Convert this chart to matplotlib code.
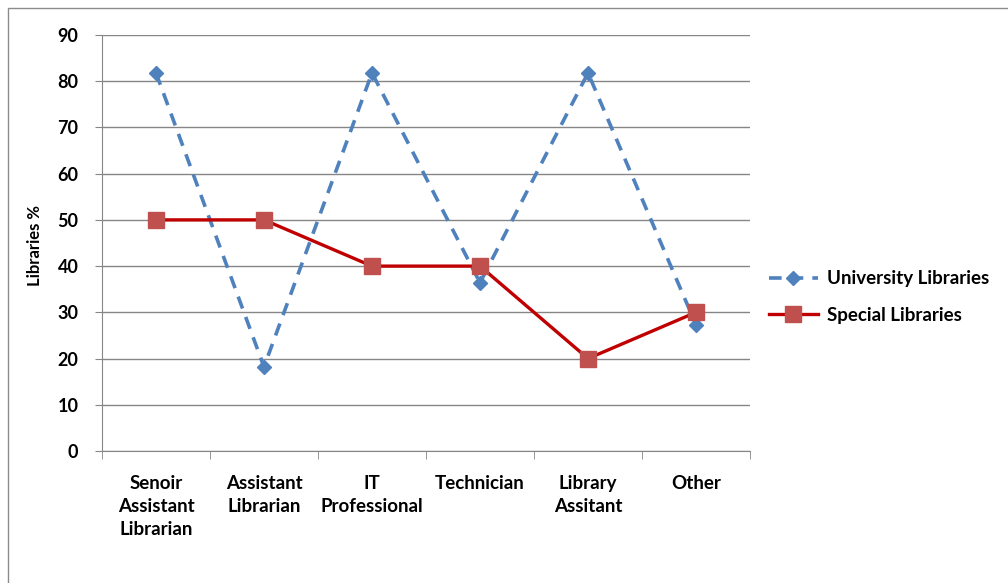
import numpy as np
import matplotlib.pyplot as plt
from matplotlib.patches import Rectangle

categories = ['Senoir\nAssistant\nLibrarian', 'Assistant\nLibrarian', 'IT\nProfessional',
              'Technician', 'Library\nAssitant', 'Other']
university = [81.8, 18.2, 81.8, 36.4, 81.8, 27.3]
special = [50, 50, 40, 40, 20, 30]
yticks = [0, 10, 20, 30, 40, 50, 60, 70, 80, 90]

plt.rcParams['font.family'] = ['Lato', 'DejaVu Sans']
plt.rcParams['font.weight'] = 'bold'

fig = plt.figure(figsize=(10.08, 5.83), dpi=100)
fig.patches.append(Rectangle((8 / 1008, -0.1), 1.2, 1 - 8 / 583 + 0.1, transform=fig.transFigure,
                             fill=False, edgecolor='#8c8c8c', linewidth=1))
ax = fig.add_axes([102 / 1008, 1 - 451 / 583, (750 - 102) / 1008, (451 - 35) / 583])

x = np.arange(len(categories))
ax.plot(x, university, color='#4F81BD', linestyle=(0, (3.5, 2.5)), linewidth=2.6,
        marker='D', markersize=7, markerfacecolor='#4F81BD', markeredgecolor='#4F81BD',
        label='University Libraries', zorder=3)
ax.plot(x, special, color='#C00000', linewidth=2.4, marker='s', markersize=11,
        markerfacecolor='#C0504D', markeredgecolor='#C0504D',
        label='Special Libraries', zorder=4)

ax.set_xlim(-0.5, len(categories) - 0.5)
ax.set_ylim(0, 90)
ax.set_yticks(yticks)
ax.set_yticklabels([str(v) for v in yticks], fontsize=13)
ax.set_xticks(x)
ax.set_xticklabels(categories, fontsize=13.5, linespacing=1.45, va='top')
ax.set_xticks(np.arange(len(categories) + 1) - 0.5, minor=True)
ax.tick_params(axis='x', which='major', length=0, pad=17)
ax.tick_params(axis='x', which='minor', length=6, direction='out', color='#868686')
ax.tick_params(axis='y', length=5, direction='out', color='#868686', pad=12)

ax.grid(axis='y', color='#868686', linewidth=1)
ax.set_axisbelow(True)
for side in ['top', 'right']:
    ax.spines[side].set_visible(False)
for side in ['left', 'bottom']:
    ax.spines[side].set_color('#868686')

fig.text(35 / 1008, 1 - 245 / 583, 'Libraries %', rotation=90, fontsize=12,
         ha='center', va='center', fontweight='bold')

ax.legend(loc='center left', bbox_to_anchor=(1.0, 0.37), frameon=False, fontsize=13.5,
          handlelength=2.6, labelspacing=1.05, handletextpad=0.5, borderaxespad=0.6)

fig.savefig('out.png', dpi=100)
